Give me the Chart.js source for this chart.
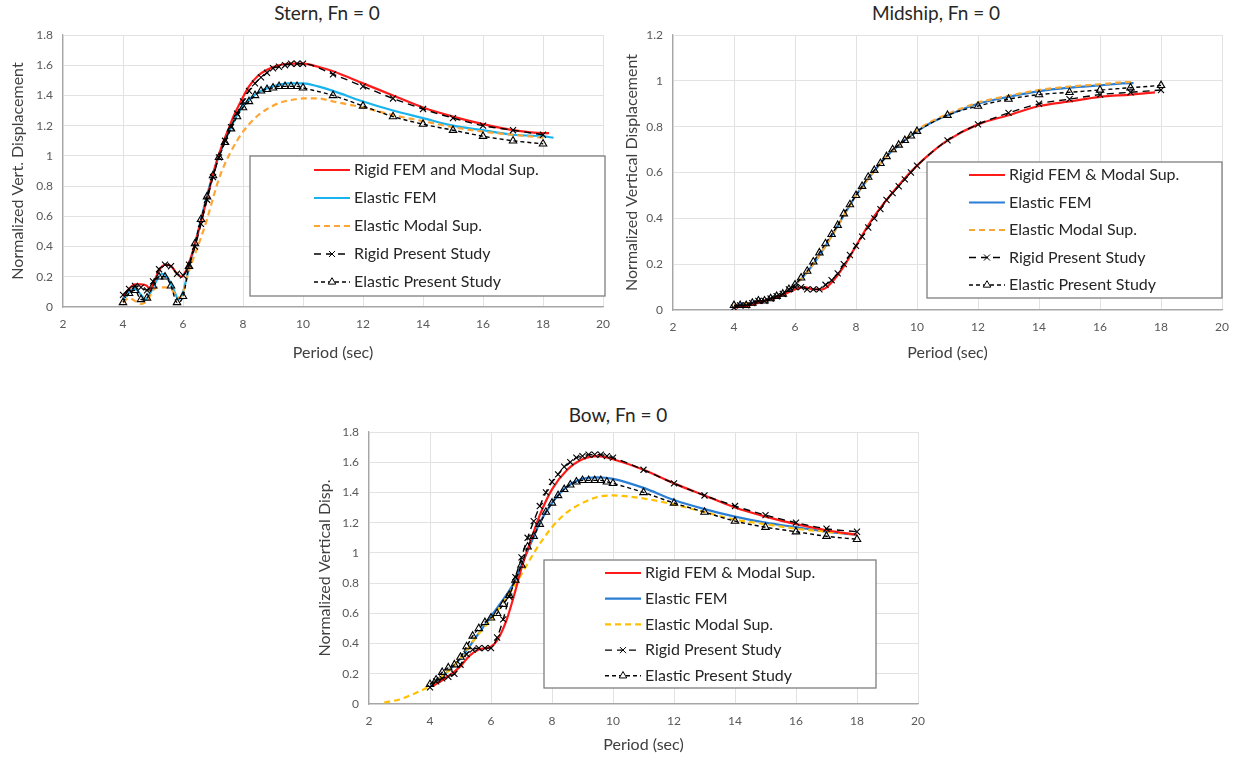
<!DOCTYPE html>
<html>
<head>
<meta charset="utf-8">
<script src="https://cdn.jsdelivr.net/npm/chart.js@4.4.1/dist/chart.umd.min.js"></script>
<style>
  body { margin: 0; background: #fff; }
  #wrap { position: relative; width: 1239px; height: 759px; background: #fff; overflow: hidden; }
  canvas { position: absolute; }
  .ttl { position: absolute; width: 240px; text-align: center; font: 19px Lato, "Open Sans", sans-serif; color: #262626; line-height: 22px; }
</style>
</head>
<body>
<div id="wrap">
  <div class="ttl" style="left:207px;top:2px">Stern, Fn = 0</div>
  <div class="ttl" style="left:816px;top:2px">Midship, Fn = 0</div>
  <div class="ttl" style="left:498px;top:404px">Bow, Fn = 0</div>
  <canvas id="sternChart" width="620" height="370" style="left:0;top:0"></canvas>
  <canvas id="midChart" width="624" height="370" style="left:615px;top:0"></canvas>
  <canvas id="bowChart" width="640" height="359" style="left:300px;top:400px"></canvas>
</div>
<script>
// ==================== DATA ====================

// periods where the "present study" markers sit (shared by all three panels)
const presentPeriods = [4.0, 4.2, 4.4, 4.6, 4.8, 5.0, 5.2, 5.4, 5.6, 5.8, 6.0, 6.2, 6.4, 6.6, 6.8, 7.0,
  7.2, 7.4, 7.6, 7.8, 8.0, 8.2, 8.4, 8.6, 8.8, 9.0, 9.2, 9.4, 9.6, 9.8, 10, 11, 12, 13, 14, 15, 16, 17, 18];

const xTicks = [2, 4, 6, 8, 10, 12, 14, 16, 18, 20];

// --- Stern ---
const sternRigidFemX = [4.0, 4.2, 4.4, 4.6, 4.8, 4.9, 5.0, 5.2, 5.4, 5.6, 5.8, 5.95, 6.1, 6.3, 6.5, 6.7, 6.9, 7.1, 7.3,
  7.5, 7.7, 7.9, 8.2, 8.5, 8.8, 9.2, 9.6, 10, 10.5, 11, 12, 13, 14, 15, 16, 17, 18, 18.2];
const sternRigidFemY = [0.07, 0.12, 0.15, 0.15, 0.14, 0.11, 0.15, 0.24, 0.28, 0.27, 0.22, 0.20, 0.24, 0.35, 0.49, 0.64,
  0.80, 0.95, 1.07, 1.17, 1.27, 1.35, 1.46, 1.53, 1.57, 1.60, 1.61, 1.61, 1.59, 1.56, 1.48, 1.40, 1.32, 1.26, 1.21, 1.17, 1.15, 1.15];
const sternElasticFemX = [4.0, 4.2, 4.4, 4.6, 4.75, 4.9, 5.1, 5.3, 5.5, 5.7, 5.85, 6.0, 6.2, 6.4, 6.6, 6.8, 7.0, 7.2,
  7.4, 7.6, 7.8, 8.0, 8.3, 8.6, 9.0, 9.5, 10, 10.5, 11, 12, 13, 14, 15, 16, 17, 18, 18.35];
const sternElasticFemY = [0.05, 0.10, 0.12, 0.08, 0.05, 0.09, 0.17, 0.22, 0.19, 0.11, 0.05, 0.10, 0.26, 0.42, 0.58, 0.74,
  0.88, 1.00, 1.10, 1.19, 1.27, 1.33, 1.39, 1.43, 1.46, 1.48, 1.48, 1.46, 1.43, 1.36, 1.30, 1.25, 1.20, 1.17, 1.14, 1.13, 1.12];
const sternModalX = [4.0, 4.2, 4.4, 4.6, 4.8, 5.0, 5.2, 5.4, 5.6, 5.8, 5.9, 6.0, 6.2, 6.4, 6.6, 6.8, 7.0, 7.2, 7.4, 7.6,
  7.8, 8.0, 8.4, 8.8, 9.2, 9.6, 10, 10.5, 11, 12, 13, 14, 15, 16, 17, 18];
const sternModalY = [0.03, 0.06, 0.04, 0.02, 0.04, 0.11, 0.13, 0.13, 0.12, 0.07, 0.06, 0.10, 0.24, 0.35, 0.46, 0.58,
  0.72, 0.85, 0.95, 1.03, 1.10, 1.16, 1.25, 1.31, 1.35, 1.37, 1.38, 1.38, 1.36, 1.32, 1.27, 1.23, 1.19, 1.16, 1.14, 1.12];
const sternRigidPresentY = [0.08, 0.12, 0.14, 0.13, 0.11, 0.17, 0.25, 0.28, 0.27, 0.22, 0.21, 0.28, 0.40, 0.55, 0.71,
  0.86, 0.99, 1.10, 1.19, 1.28, 1.36, 1.43, 1.48, 1.52, 1.55, 1.58, 1.59, 1.60, 1.61, 1.61, 1.61,
  1.54, 1.46, 1.38, 1.31, 1.25, 1.20, 1.17, 1.14];
const sternElasticPresentY = [0.03, 0.09, 0.11, 0.05, 0.06, 0.14, 0.20, 0.20, 0.14, 0.03, 0.07, 0.27, 0.42, 0.58, 0.73,
  0.87, 0.99, 1.09, 1.18, 1.26, 1.32, 1.36, 1.40, 1.43, 1.44, 1.45, 1.46, 1.46, 1.46, 1.46, 1.45,
  1.40, 1.33, 1.26, 1.21, 1.17, 1.13, 1.10, 1.08];

// --- Midship ---
const midRigidFemX = [4, 4.5, 5, 5.5, 6, 6.3, 6.6, 6.9, 7.2, 7.6, 8, 8.5, 9, 9.5, 10, 10.5, 11, 12, 13, 14, 15, 16, 17, 17.8];
const midRigidFemY = [0.01, 0.02, 0.04, 0.06, 0.09, 0.10, 0.09, 0.09, 0.12, 0.19, 0.28, 0.39, 0.48, 0.56, 0.63, 0.69,
  0.74, 0.81, 0.85, 0.89, 0.91, 0.93, 0.94, 0.95];
const midElasticX = [4, 4.5, 5, 5.5, 6, 6.3, 6.6, 7, 7.5, 8, 8.5, 9, 9.5, 10, 10.5, 11, 12, 13, 14, 15, 16, 17, 17.1];
const midElasticFemY = [0.02, 0.03, 0.04, 0.06, 0.11, 0.15, 0.20, 0.28, 0.39, 0.50, 0.59, 0.67, 0.73, 0.78, 0.82, 0.85,
  0.90, 0.93, 0.955, 0.97, 0.98, 0.99, 0.99];
const midModalY = [0.02, 0.03, 0.04, 0.06, 0.11, 0.15, 0.20, 0.28, 0.39, 0.50, 0.59, 0.67, 0.73, 0.785, 0.825, 0.855,
  0.905, 0.935, 0.96, 0.975, 0.985, 0.995, 0.995];
const midRigidPresentY = [0.01, 0.02, 0.02, 0.03, 0.04, 0.04, 0.05, 0.06, 0.07, 0.09, 0.10, 0.10, 0.09, 0.09, 0.09,
  0.11, 0.13, 0.16, 0.20, 0.24, 0.28, 0.32, 0.36, 0.40, 0.44, 0.48, 0.51, 0.54, 0.57, 0.60, 0.63,
  0.74, 0.81, 0.86, 0.90, 0.92, 0.94, 0.95, 0.96];
const midElasticPresentY = [0.02, 0.02, 0.02, 0.03, 0.04, 0.04, 0.05, 0.06, 0.07, 0.09, 0.11, 0.14, 0.17, 0.21, 0.25,
  0.29, 0.33, 0.37, 0.42, 0.46, 0.50, 0.54, 0.58, 0.61, 0.64, 0.67, 0.70, 0.72, 0.74, 0.76, 0.78,
  0.85, 0.89, 0.92, 0.94, 0.95, 0.96, 0.97, 0.98];

// --- Bow ---
const bowRigidFemX = [4.1, 4.5, 5, 5.3, 5.6, 6, 6.2, 6.5, 6.8, 7, 7.3, 7.6, 8, 8.5, 9, 9.5, 10, 11, 12, 13, 14, 15, 16, 17, 18];
const bowRigidFemY = [0.12, 0.17, 0.25, 0.32, 0.36, 0.38, 0.42, 0.55, 0.75, 0.90, 1.08, 1.25, 1.42, 1.55, 1.62, 1.64,
  1.62, 1.55, 1.46, 1.38, 1.30, 1.24, 1.19, 1.15, 1.12];
const bowElasticFemX = [4, 4.5, 5, 5.5, 6, 6.5, 6.8, 7, 7.3, 7.6, 8, 8.5, 9, 9.5, 10, 11, 12, 13, 14, 15, 16, 17, 18];
const bowElasticFemY = [0.12, 0.20, 0.30, 0.44, 0.58, 0.72, 0.82, 0.92, 1.06, 1.20, 1.33, 1.44, 1.49, 1.50, 1.49, 1.43,
  1.35, 1.29, 1.24, 1.20, 1.17, 1.14, 1.12];
const bowModalX = [2.5, 3, 3.5, 4, 4.5, 5, 5.5, 6, 6.5, 7, 7.5, 8, 8.5, 9, 9.5, 10, 11, 12, 13, 14, 15, 16, 17, 18];
const bowModalY = [0.01, 0.03, 0.07, 0.12, 0.20, 0.30, 0.44, 0.56, 0.70, 0.86, 1.03, 1.17, 1.27, 1.33, 1.37, 1.38,
  1.36, 1.32, 1.27, 1.22, 1.19, 1.16, 1.14, 1.12];
const bowRigidPresentY = [0.11, 0.15, 0.17, 0.18, 0.20, 0.26, 0.33, 0.36, 0.37, 0.37, 0.37, 0.44, 0.56, 0.71, 0.84,
  0.97, 1.10, 1.21, 1.31, 1.40, 1.47, 1.52, 1.57, 1.60, 1.63, 1.64, 1.65, 1.65, 1.65, 1.64, 1.63,
  1.55, 1.46, 1.38, 1.31, 1.25, 1.20, 1.16, 1.14];
const bowElasticPresentY = [0.13, 0.16, 0.21, 0.24, 0.26, 0.31, 0.38, 0.45, 0.50, 0.54, 0.57, 0.60, 0.66, 0.72, 0.82,
  0.92, 1.04, 1.11, 1.19, 1.27, 1.33, 1.38, 1.42, 1.45, 1.47, 1.48, 1.48, 1.48, 1.48, 1.47, 1.46,
  1.40, 1.33, 1.27, 1.21, 1.17, 1.14, 1.11, 1.09];

// ==================== HELPERS ====================

const FONT = "Lato, 'Open Sans', sans-serif";

function toPoints(xs, ys) {
  return xs.map((x, i) => ({ x: x, y: ys[i] }));
}

function femLine(label, xs, ys, color, dashed, order) {
  return {
    label: label,
    data: toPoints(xs, ys),
    borderColor: color,
    backgroundColor: color,
    borderWidth: 2.2,
    borderDash: dashed ? [6, 4] : [],
    pointRadius: 0,
    cubicInterpolationMode: 'monotone',
    order: order
  };
}

function presentLine(label, ys, marker) {
  return {
    label: label,
    data: toPoints(presentPeriods, ys),
    borderColor: '#000',
    backgroundColor: '#000',
    borderWidth: 1.4,
    borderDash: marker === 'crossRot' ? [7, 5] : [4, 3],
    pointStyle: marker,
    pointRadius: 4.3,
    pointBorderWidth: 1.1,
    pointBorderColor: '#000',
    pointBackgroundColor: 'rgba(255,255,255,0)',
    cubicInterpolationMode: 'monotone',
    order: 0
  };
}

// legend drawn inside the plot, Excel style
const legendBoxPlugin = {
  id: 'legendBox',
  afterDatasetsDraw(chart, args, opts) {
    const ctx = chart.ctx;
    ctx.save();
    ctx.fillStyle = '#fff';
    ctx.fillRect(opts.left, opts.top, opts.width, opts.height);
    ctx.strokeStyle = '#7f7f7f';
    ctx.lineWidth = 1.3;
    ctx.strokeRect(opts.left, opts.top, opts.width, opts.height);

    chart.data.datasets.forEach((ds, i) => {
      const y = opts.top + opts.firstRow + i * opts.rowGap;
      ctx.strokeStyle = ds.borderColor;
      ctx.lineWidth = ds.borderWidth;
      ctx.setLineDash(ds.borderDash || []);
      ctx.beginPath();
      ctx.moveTo(opts.sampleX, y);
      ctx.lineTo(opts.sampleX + opts.sampleW, y);
      ctx.stroke();
      ctx.setLineDash([]);
      if (ds.pointRadius > 0) {
        ctx.fillStyle = '#fff';
        ctx.strokeStyle = '#000';
        ctx.lineWidth = 1;
        Chart.helpers.drawPoint(ctx, { pointStyle: ds.pointStyle, radius: ds.pointRadius, rotation: 0, borderWidth: 1 },
          opts.sampleX + opts.sampleW / 2, y);
      }
      ctx.fillStyle = '#262626';
      ctx.font = '16px ' + FONT;
      ctx.textBaseline = 'middle';
      ctx.textAlign = 'left';
      ctx.fillText(ds.label, opts.sampleX + opts.sampleW + 4, y);
    });
    ctx.restore();
  }
};

function buildChart(canvasId, cfg) {
  const ctx = document.getElementById(canvasId);
  return new Chart(ctx, {
    type: 'line',
    data: { datasets: cfg.datasets },
    plugins: [legendBoxPlugin],
    options: {
      responsive: false,
      animation: false,
      layout: { padding: cfg.padding },
      plugins: {
        legend: { display: false },
        tooltip: { enabled: false },
        title: { display: false },
        legendBox: cfg.legend
      },
      scales: {
        x: {
          type: 'linear',
          min: 2,
          max: 20,
          afterBuildTicks: axis => { axis.ticks = xTicks.map(v => ({ value: v })); },
          afterFit: axis => { axis.height = cfg.xHeight; },
          grid: { color: '#e2e2e2', drawTicks: false },
          border: { color: '#a6a6a6', width: 1.2 },
          ticks: { padding: 10, color: '#595959', font: { family: FONT, size: 12 }, maxRotation: 0,
            callback: v => String(v) },
          title: { display: true, text: 'Period (sec)', color: '#404040', font: { family: FONT, size: 16 } }
        },
        y: {
          min: 0,
          max: cfg.yMax,
          afterBuildTicks: axis => { axis.ticks = cfg.yTicks.map(v => ({ value: v })); },
          afterFit: axis => { axis.width = cfg.yWidth; },
          grid: { color: '#e2e2e2', drawTicks: false },
          border: { color: '#a6a6a6', width: 1.2 },
          ticks: { padding: 10, color: '#595959', font: { family: FONT, size: 12 },
            callback: v => String(Math.round(v * 10) / 10) },
          title: { display: true, text: cfg.yTitle, color: '#404040', font: { family: FONT, size: 16 } }
        }
      }
    }
  });
}

// ==================== CHARTS ====================

buildChart('sternChart', {
  yMax: 1.8,
  yTicks: [0, 0.2, 0.4, 0.6, 0.8, 1, 1.2, 1.4, 1.6, 1.8],
  yTitle: 'Normalized Vert. Displacement',
  padding: { left: 4, top: 35, right: 7, bottom: 4 },
  yWidth: 59,
  xHeight: 59,
  legend: { left: 250, top: 156, width: 355, height: 140, firstRow: 14, rowGap: 28, sampleX: 314, sampleW: 36 },
  datasets: [
    femLine('Rigid FEM and Modal Sup.', sternRigidFemX, sternRigidFemY, '#ff1a1a', false, 1),
    femLine('Elastic FEM', sternElasticFemX, sternElasticFemY, '#19b4ee', false, 2),
    femLine('Elastic Modal Sup.', sternModalX, sternModalY, '#ffa533', true, 1),
    presentLine('Rigid Present Study', sternRigidPresentY, 'crossRot'),
    presentLine('Elastic Present Study', sternElasticPresentY, 'triangle')
  ]
});

buildChart('midChart', {
  yMax: 1.2,
  yTicks: [0, 0.2, 0.4, 0.6, 0.8, 1, 1.2],
  yTitle: 'Normalized Vertical Displacement',
  padding: { left: 3, top: 35, right: 12, bottom: 4 },
  yWidth: 55,
  xHeight: 56,
  legend: { left: 312, top: 162, width: 295, height: 136, firstRow: 13, rowGap: 27.5, sampleX: 354, sampleW: 36 },
  datasets: [
    femLine('Rigid FEM & Modal Sup.', midRigidFemX, midRigidFemY, '#ff1a1a', false, 1),
    femLine('Elastic FEM', midElasticX, midElasticFemY, '#2a7fd4', false, 2),
    femLine('Elastic Modal Sup.', midElasticX, midModalY, '#f7a834', true, 1),
    presentLine('Rigid Present Study', midRigidPresentY, 'crossRot'),
    presentLine('Elastic Present Study', midElasticPresentY, 'triangle')
  ]
});

buildChart('bowChart', {
  yMax: 1.8,
  yTicks: [0, 0.2, 0.4, 0.6, 0.8, 1, 1.2, 1.4, 1.6, 1.8],
  yTitle: 'Normalized Vertical Disp.',
  padding: { left: 11, top: 32, right: 22, bottom: 1 },
  yWidth: 58,
  xHeight: 54,
  legend: { left: 244, top: 160, width: 332, height: 128, firstRow: 13, rowGap: 25.7, sampleX: 305, sampleW: 36 },
  datasets: [
    femLine('Rigid FEM & Modal Sup.', bowRigidFemX, bowRigidFemY, '#ff1a1a', false, 1),
    femLine('Elastic FEM', bowElasticFemX, bowElasticFemY, '#2a7fd4', false, 2),
    femLine('Elastic Modal Sup.', bowModalX, bowModalY, '#ffc000', true, 1),
    presentLine('Rigid Present Study', bowRigidPresentY, 'crossRot'),
    presentLine('Elastic Present Study', bowElasticPresentY, 'triangle')
  ]
});
</script>
</body>
</html>
